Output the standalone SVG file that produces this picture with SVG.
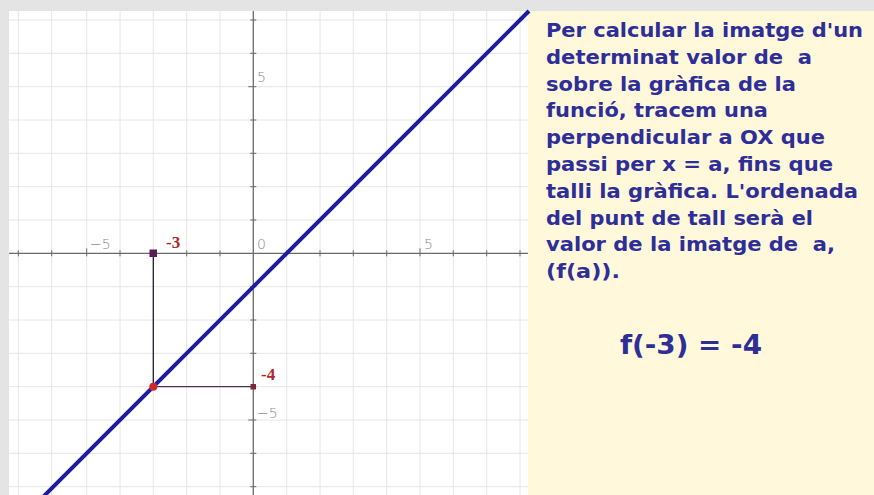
<svg xmlns="http://www.w3.org/2000/svg" width="874" height="495" viewBox="0 0 874 495">
<defs>
<style>
.grid{stroke:#e6e6e6;stroke-width:1}
.axis{stroke:#6a6a6a;stroke-width:1.3}
.tick{stroke:#6a6a6a;stroke-width:1}
.num{font-family:"DejaVu Sans","Liberation Sans",sans-serif;font-size:14px;fill:#8a8a8a;font-weight:300}
.red{font-family:"Liberation Serif",serif;font-weight:bold;font-size:17px;fill:#b02828}
.txt{font-family:"DejaVu Sans","Verdana",sans-serif;font-weight:bold;font-size:19px;fill:#2e2e98;white-space:pre}
</style>
</defs>
<rect x="0" y="0" width="874" height="495" fill="#e4e4e4"/>
<rect x="9" y="11" width="520" height="484" fill="#ffffff"/>
<rect x="528" y="11" width="346" height="484" fill="#fff8da"/>
<g id="grid">
<path class="grid" d="M18.3 11V495M51.7 11V495M86.7 11V495M120 11V495M153.3 11V495M186.7 11V495M220 11V495M286.7 11V495M320 11V495M353.3 11V495M386.7 11V495M420 11V495M453.3 11V495M486.7 11V495M520 11V495"/>
<path class="grid" d="M9 20H528M9 53.3H528M9 86.7H528M9 120H528M9 153.3H528M9 186.7H528M9 220H528M9 286.7H528M9 320H528M9 353.3H528M9 386.7H528M9 420H528M9 453.3H528M9 486.7H528"/>
</g>
<g id="axes">
<line class="axis" x1="9" y1="253.3" x2="528" y2="253.3"/>
<line class="axis" x1="253.3" y1="11" x2="253.3" y2="495"/>
<path class="tick" d="M18.3 250.3v6M51.7 250.3v6M86.7 248.3v8M120 250.3v6M153.3 250.3v6M186.7 250.3v6M220 250.3v6M286.7 250.3v6M320 250.3v6M353.3 250.3v6M386.7 250.3v6M420 248.3v8M453.3 250.3v6M486.7 250.3v6M520 250.3v6"/>
<path class="tick" d="M250.3 20h6M250.3 53.3h6M248.3 86.7h8M250.3 120h6M250.3 153.3h6M250.3 186.7h6M250.3 220h6M250.3 286.7h6M250.3 320h6M250.3 353.3h6M250.3 386.7h6M248.3 420h8M250.3 453.3h6M250.3 486.7h6"/>
<text class="num" x="90" y="249">−5</text>
<text class="num" x="257" y="249">0</text>
<text class="num" x="424" y="249">5</text>
<text class="num" x="257" y="82">5</text>
<text class="num" x="257" y="418">−5</text>
</g>
<g id="function-line">
<line x1="40" y1="500" x2="529" y2="11" stroke="#1c1ca0" stroke-width="4"/>
</g>
<g id="connectors">
<line x1="153.3" y1="253.3" x2="153.3" y2="386.7" stroke="#2a1a3a" stroke-width="1.3"/>
<line x1="153.3" y1="386.7" x2="253.3" y2="386.7" stroke="#4a3050" stroke-width="1.3"/>
</g>
<g id="point-a">
<rect x="149.5" y="249.5" width="7.5" height="7.5" fill="#5a1a5a"/>
<text class="red" x="166" y="248">-3</text>
</g>
<g id="point-fa">
<rect x="250.5" y="384" width="5.5" height="5.5" fill="#7a2a3a"/>
<text class="red" x="261" y="380">-4</text>
</g>
<g id="point-intersection">
<circle cx="153.3" cy="386.7" r="4" fill="#d02828"/>
</g>
<g id="explanation">
<text class="txt" x="546" y="37" textLength="317" lengthAdjust="spacingAndGlyphs">Per calcular la imatge d'un</text>
<text class="txt" x="546" y="63.8" textLength="266" lengthAdjust="spacingAndGlyphs">determinat valor de  a</text>
<text class="txt" x="546" y="90.6" textLength="250" lengthAdjust="spacingAndGlyphs">sobre la gràfica de la</text>
<text class="txt" x="546" y="117.4" textLength="222" lengthAdjust="spacingAndGlyphs">funció, tracem una</text>
<text class="txt" x="546" y="144.2" textLength="279" lengthAdjust="spacingAndGlyphs">perpendicular a OX que</text>
<text class="txt" x="546" y="171" textLength="287" lengthAdjust="spacingAndGlyphs">passi per x = a, fins que</text>
<text class="txt" x="546" y="197.8" textLength="312" lengthAdjust="spacingAndGlyphs">talli la gràfica. L'ordenada</text>
<text class="txt" x="546" y="224.6" textLength="267" lengthAdjust="spacingAndGlyphs">del punt de tall serà el</text>
<text class="txt" x="546" y="251.4" textLength="289" lengthAdjust="spacingAndGlyphs">valor de la imatge de  a,</text>
<text class="txt" x="546" y="278.2" textLength="74" lengthAdjust="spacingAndGlyphs">(f(a)).</text>
<text class="txt" x="620" y="354" style="font-size:27px" textLength="142" lengthAdjust="spacingAndGlyphs">f(-3) = -4</text>
</g>
</svg>
